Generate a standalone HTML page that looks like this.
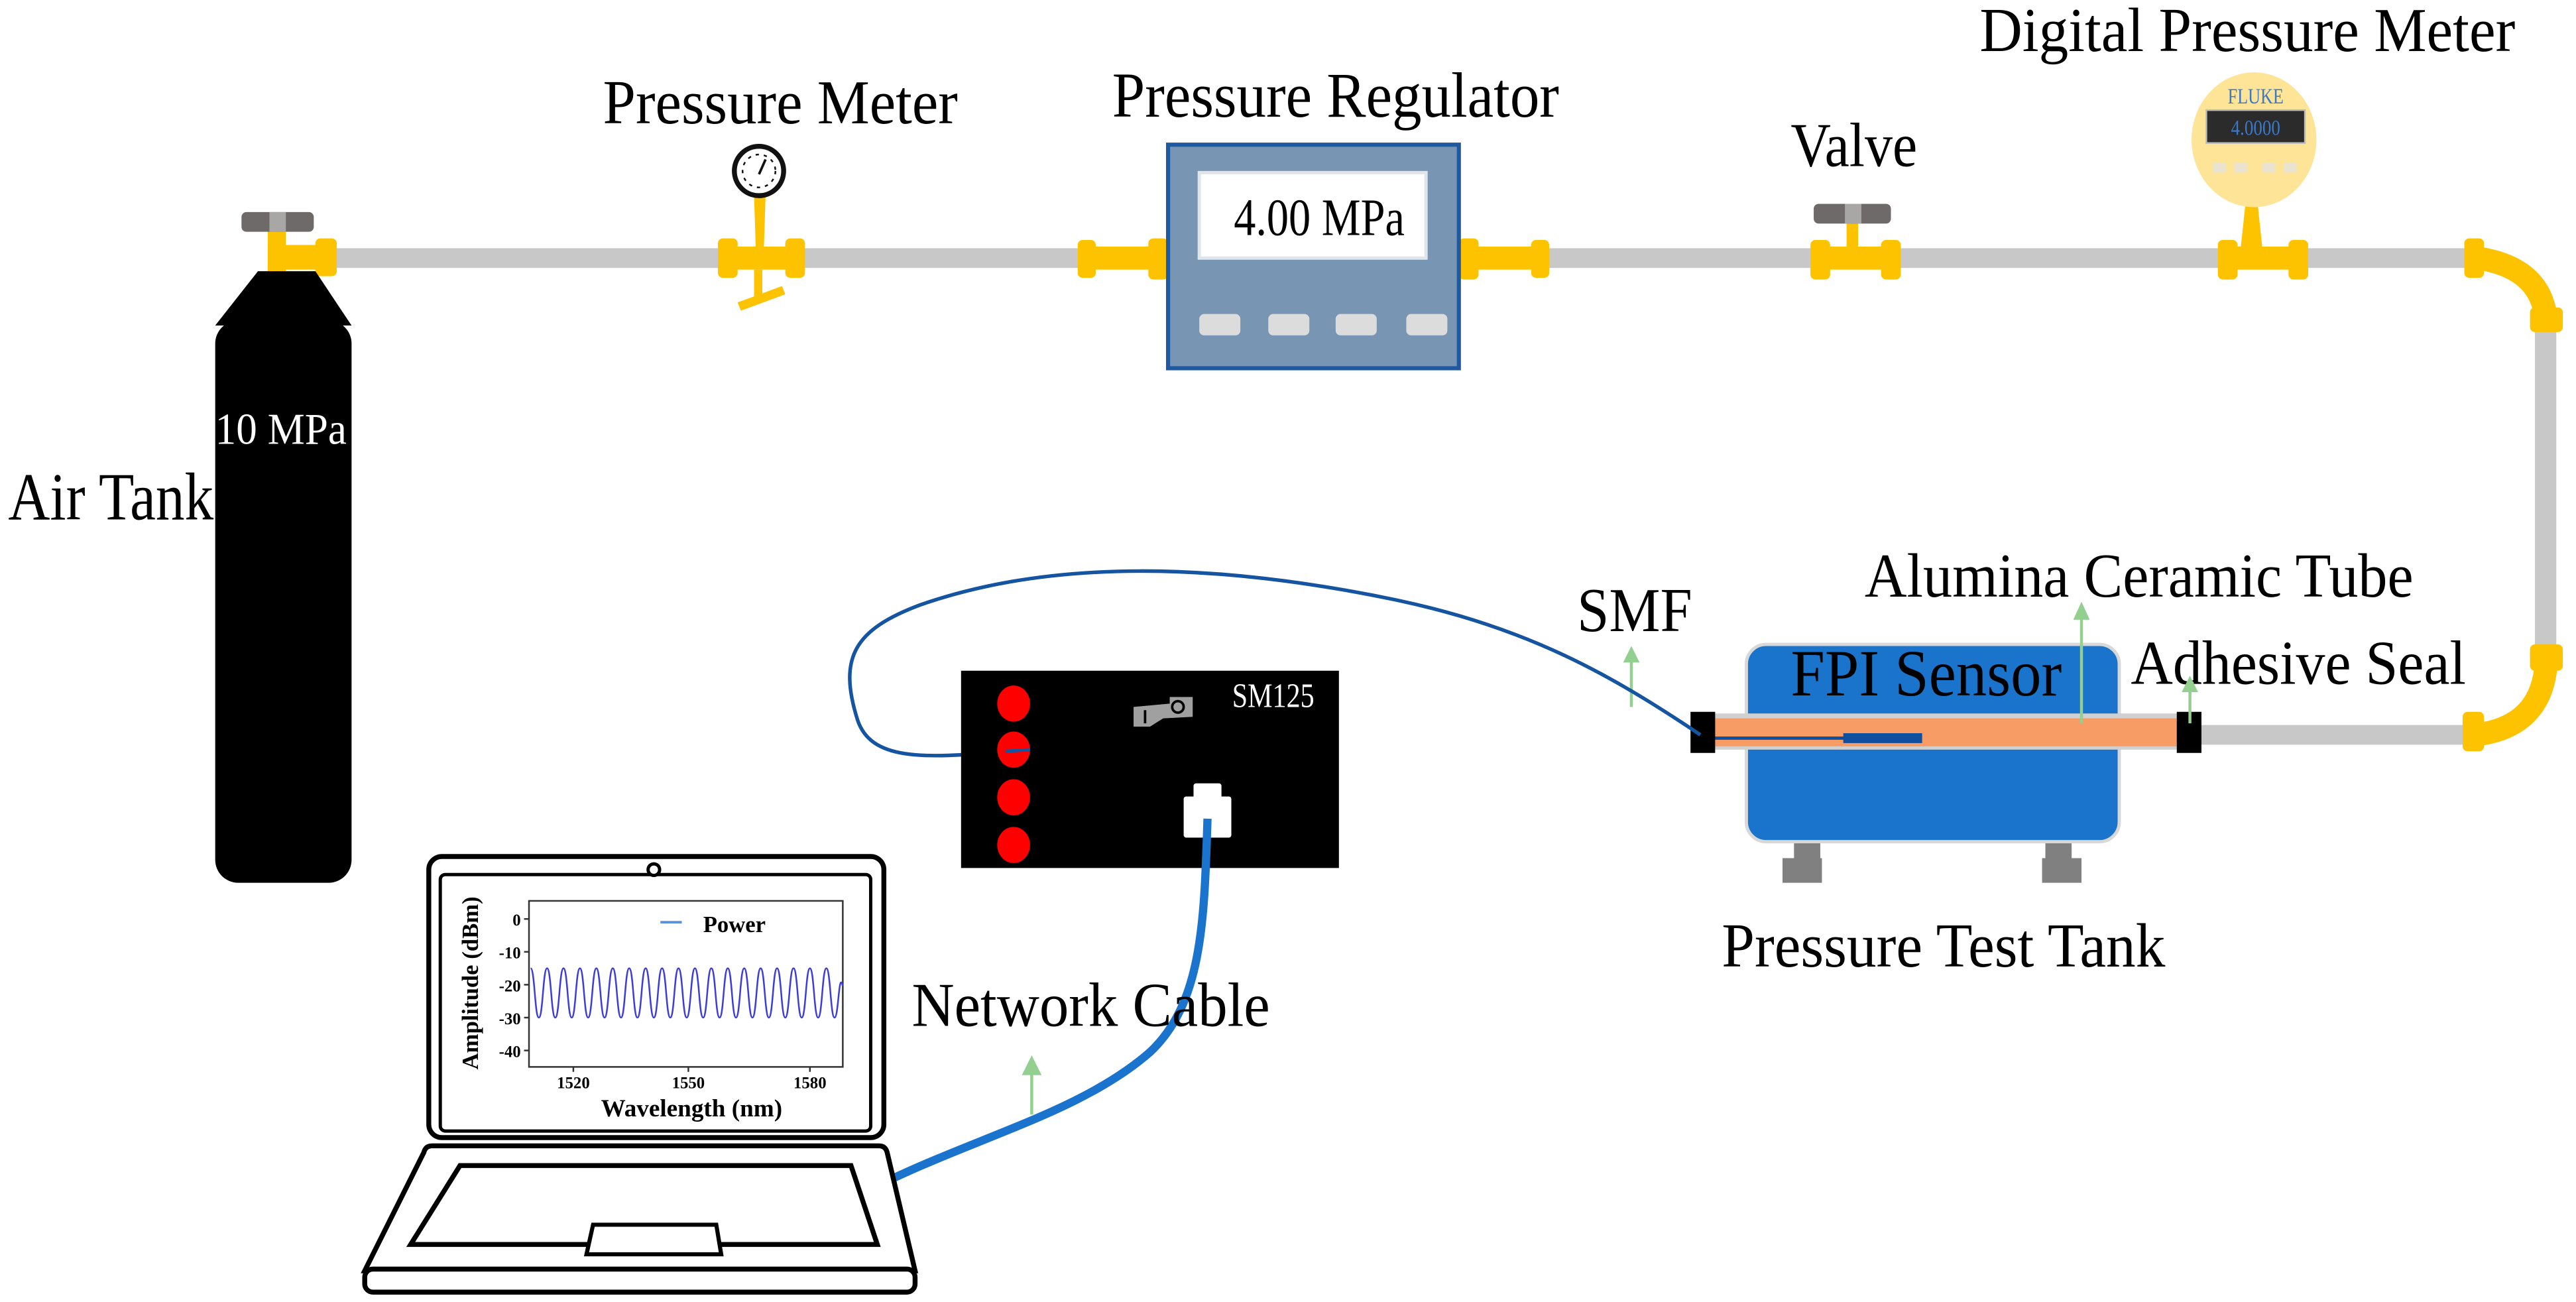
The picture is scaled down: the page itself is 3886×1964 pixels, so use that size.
<!DOCTYPE html>
<html><head><meta charset="utf-8"><style>
html,body{margin:0;padding:0;background:#fff;}
svg{display:block;}
text{font-family:"Liberation Serif","Times New Roman",serif;}
</style></head><body>
<svg width="3886" height="1964" viewBox="0 0 1568 792" preserveAspectRatio="none" xmlns="http://www.w3.org/2000/svg" font-family="Liberation Serif, serif">
<rect width="1568" height="792" fill="#fff"/>
<g fill="#c8c8c8">
<rect x="200" y="151" width="1310" height="12"/>
<rect x="1543" y="198" width="13" height="200"/>
<rect x="1335" y="441" width="172" height="12"/>
</g>
<g fill="#fdc300">
<rect x="163" y="139" width="11" height="28"/>
<rect x="163" y="149" width="38" height="15"/>
<rect x="192" y="145" width="13" height="23" rx="3"/>
<rect x="437" y="145" width="12" height="24" rx="3"/><rect x="445" y="150" width="36" height="14"/><rect x="478" y="145" width="12" height="24" rx="3"/>
<polygon points="459,119 466,119 465,150 460,150"/>
<rect x="459" y="164" width="5" height="18"/>
<polygon points="449,184 476,174 478,179 451,189"/>
<rect x="656" y="146" width="11" height="23" rx="3"/><rect x="662" y="150" width="40" height="14"/><rect x="699" y="145" width="12" height="25" rx="3"/>
<rect x="888" y="145" width="12" height="25" rx="3"/><rect x="896" y="150" width="40" height="14"/><rect x="932" y="146" width="11" height="23" rx="3"/>
<rect x="1102" y="146" width="12" height="24" rx="3"/><rect x="1110" y="150" width="40" height="14"/><rect x="1145" y="146" width="12" height="24" rx="3"/>
<rect x="1124" y="134" width="7" height="18"/>
<rect x="1350" y="146" width="12" height="24" rx="3"/><rect x="1358" y="150" width="40" height="14"/><rect x="1393" y="146" width="12" height="24" rx="3"/>
<polygon points="1367,122 1374,122 1377,150 1364,150"/>
<rect x="1500" y="145" width="12" height="24" rx="3"/>
<rect x="1540" y="187" width="20" height="15" rx="3"/>
<rect x="1540" y="392" width="20" height="16" rx="3"/>
<rect x="1499" y="433" width="13" height="24" rx="3"/>
</g>
<g fill="none" stroke="#fdc300" stroke-width="14">
<path d="M1508,157 Q1549,163 1550,198"/>
<path d="M1550,400 Q1549,442 1507,447"/>
</g>
<polygon points="157,165 192,165 214,198 131,198" fill="#000"/>
<rect x="131" y="195" width="83" height="342" rx="14" fill="#000"/>
<rect x="147" y="129" width="44" height="12" rx="3" fill="#6f6a6a"/>
<rect x="164" y="129" width="10" height="12" fill="#a9a6a6"/>
<text x="131" y="270" font-size="27" fill="#fff" textLength="80" lengthAdjust="spacingAndGlyphs">10 MPa</text>
<text x="5" y="316" font-size="41" fill="#000" textLength="125" lengthAdjust="spacingAndGlyphs">Air Tank</text>
<circle cx="462" cy="104" r="15" fill="#fff" stroke="#111" stroke-width="3"/>
<circle cx="462" cy="104" r="10" fill="none" stroke="#111" stroke-width="1" stroke-dasharray="2 3"/>
<line x1="462" y1="106" x2="466" y2="97" stroke="#111" stroke-width="1.5"/>
<text x="367" y="75" font-size="38" textLength="216" lengthAdjust="spacingAndGlyphs">Pressure Meter</text>
<rect x="711" y="88" width="177" height="136" fill="#7896b4" stroke="#1f5aa0" stroke-width="2.5"/>
<rect x="730" y="105" width="138" height="52" fill="#fff" stroke="#dfe5ea" stroke-width="2"/>
<text x="751" y="143" font-size="32" textLength="104" lengthAdjust="spacingAndGlyphs">4.00 MPa</text>
<g fill="#dcdcdc"><rect x="730" y="191" width="25" height="13" rx="3"/><rect x="772" y="191" width="25" height="13" rx="3"/><rect x="813" y="191" width="25" height="13" rx="3"/><rect x="856" y="191" width="25" height="13" rx="3"/></g>
<text x="677" y="71" font-size="39" textLength="272" lengthAdjust="spacingAndGlyphs">Pressure Regulator</text>
<rect x="1104" y="124" width="47" height="12" rx="3" fill="#6f6a6a"/>
<rect x="1123" y="124" width="10" height="12" fill="#a9a6a6"/>
<text x="1090" y="101" font-size="38" textLength="77" lengthAdjust="spacingAndGlyphs">Valve</text>
<ellipse cx="1372" cy="85" rx="38" ry="41" fill="#fde496"/>
<text x="1373" y="63" font-size="13" fill="#3a78c8" text-anchor="middle" textLength="34" lengthAdjust="spacingAndGlyphs">FLUKE</text>
<rect x="1343" y="67" width="60" height="20" fill="#2b2b2b" stroke="#bbb" stroke-width="1"/>
<text x="1373" y="82" font-size="13" fill="#3a78c8" text-anchor="middle" textLength="30" lengthAdjust="spacingAndGlyphs">4.0000</text>
<g fill="#e9e3cf"><rect x="1347" y="99" width="8" height="6"/><rect x="1360" y="99" width="8" height="6"/><rect x="1377" y="99" width="8" height="6"/><rect x="1390" y="99" width="8" height="6"/></g>
<text x="1205" y="31" font-size="38" textLength="326" lengthAdjust="spacingAndGlyphs">Digital Pressure Meter</text>
<rect x="1092" y="512" width="16" height="14" fill="#808080"/><rect x="1085" y="522" width="24" height="15" fill="#808080"/>
<rect x="1245" y="512" width="16" height="14" fill="#808080"/><rect x="1243" y="522" width="24" height="15" fill="#808080"/>
<rect x="1063" y="392" width="227" height="120" rx="12" fill="#1a74cc" stroke="#d8d8d8" stroke-width="2"/>
<rect x="1040" y="434" width="290" height="22" fill="#d0d0d0"/>
<rect x="1042" y="437" width="286" height="17" fill="#f89c66"/>
<line x1="1035" y1="449" x2="1125" y2="449" stroke="#0e4fa0" stroke-width="2"/>
<rect x="1122" y="446" width="48" height="6" fill="#0e4fa0"/>
<rect x="1029" y="433" width="15" height="25" fill="#000"/>
<rect x="1325" y="433" width="15" height="25" fill="#000"/>
<text x="1090" y="423" font-size="40" textLength="165" lengthAdjust="spacingAndGlyphs">FPI Sensor</text>
<text x="1135" y="363" font-size="38" textLength="334" lengthAdjust="spacingAndGlyphs">Alumina Ceramic Tube</text>
<text x="1297" y="416" font-size="38" textLength="204" lengthAdjust="spacingAndGlyphs">Adhesive Seal</text>
<text x="960" y="384" font-size="38" textLength="70" lengthAdjust="spacingAndGlyphs">SMF</text>
<text x="1048" y="588" font-size="38" textLength="270" lengthAdjust="spacingAndGlyphs">Pressure Test Tank</text>
<g stroke="#93d08f" stroke-width="1.8" fill="#93d08f">
<line x1="993" y1="430" x2="993" y2="402"/><polygon points="988,403 998,403 993,393" stroke="none"/>
<line x1="1267" y1="440" x2="1267" y2="376"/><polygon points="1262,377 1272,377 1267,366" stroke="none"/>
<line x1="1333" y1="440" x2="1333" y2="420"/><polygon points="1328,421 1338,421 1333,411" stroke="none"/>
<line x1="628" y1="678" x2="628" y2="652"/><polygon points="622,654 634,654 628,642" stroke="none"/>
</g>
<path d="M612,457 C560,462 530,462 522,438 C510,400 520,383 560,368 C640,340 740,342 850,365 C930,382 980,410 1035,447" fill="none" stroke="#1554a0" stroke-width="2.2"/>
<rect x="585" y="408" width="230" height="120" fill="#000"/>
<g fill="#fe0000"><ellipse cx="617" cy="428" rx="10" ry="11"/><ellipse cx="617" cy="456" rx="10" ry="11"/><ellipse cx="617" cy="485" rx="10" ry="11"/><ellipse cx="617" cy="514" rx="10" ry="11"/></g>
<path d="M612,457 L627,456" stroke="#1554a0" stroke-width="2"/>
<path d="M690,430 L712,428 L712,424 L726,424 L726,436 L708,437 L700,442 L690,442 Z" fill="#a0a0a0"/>
<circle cx="717" cy="430" r="3.5" fill="none" stroke="#000" stroke-width="1.5"/>
<line x1="697" y1="432" x2="697" y2="440" stroke="#000" stroke-width="1.5"/>
<text x="750" y="430" font-size="21" fill="#fff" textLength="50" lengthAdjust="spacingAndGlyphs">SM125</text>
<path d="M728,478 h14 v8 h6 v22 h-26 v-22 h6 z" fill="#fff" stroke="#fff" stroke-linejoin="round" stroke-width="3"/>
<path d="M735,498 C733,560 732,610 700,640 C660,675 600,690 541,718" fill="none" stroke="#1a73cc" stroke-width="5"/>
<text x="555" y="624" font-size="38" textLength="218" lengthAdjust="spacingAndGlyphs">Network Cable</text>
<rect x="261" y="521" width="277" height="171" rx="8" fill="#fff" stroke="#000" stroke-width="3"/>
<rect x="268" y="532" width="262" height="156" rx="3" fill="#fff" stroke="#000" stroke-width="2"/>
<circle cx="398" cy="529" r="3.5" fill="#fff" stroke="#000" stroke-width="2"/>
<path d="M263,697 H535 Q539,697 540,701 L557,773 H222 L258,701 Q259,697 263,697 Z" fill="#fff" stroke="#000" stroke-width="3"/>
<polygon points="280,709 518,709 534,757 250,757" fill="#fff" stroke="#000" stroke-width="3"/>
<polygon points="361,745 436,745 439,763 357,763" fill="#fff" stroke="#000" stroke-width="2.5"/>
<rect x="222" y="772" width="335" height="14" rx="5" fill="#fff" stroke="#000" stroke-width="3"/>
<rect x="322" y="548" width="191" height="101" fill="none" stroke="#333" stroke-width="1"/>
<g stroke="#333" stroke-width="1">
<line x1="319" y1="559" x2="322" y2="559"/><line x1="319" y1="579" x2="322" y2="579"/><line x1="319" y1="599" x2="322" y2="599"/><line x1="319" y1="619" x2="322" y2="619"/><line x1="319" y1="639" x2="322" y2="639"/>
<line x1="349" y1="649" x2="349" y2="652"/><line x1="419" y1="649" x2="419" y2="652"/><line x1="493" y1="649" x2="493" y2="652"/>
</g>
<g font-size="10" font-weight="bold" text-anchor="end">
<text x="317" y="563">0</text><text x="317" y="583">-10</text><text x="317" y="603">-20</text><text x="317" y="623">-30</text><text x="317" y="643">-40</text>
</g>
<g font-size="10" font-weight="bold" text-anchor="middle">
<text x="349" y="662">1520</text><text x="419" y="662">1550</text><text x="493" y="662">1580</text>
</g>
<text x="421" y="679" font-size="15" font-weight="bold" text-anchor="middle">Wavelength (nm)</text>
<text transform="translate(291,598) rotate(-90)" font-size="14" font-weight="bold" text-anchor="middle">Amplitude (dBm)</text>
<line x1="402" y1="561" x2="415" y2="561" stroke="#5b8fe0" stroke-width="1.5"/>
<text x="428" y="567" font-size="14" font-weight="bold">Power</text>
<path fill="none" stroke="#3c3cdc" stroke-width="1" d="M323,589 C325.5,589 325.5,619 328,619 C330.5,619 330.5,589 333,589 C335.5,589 335.5,619 338,619 C340.5,619 340.5,589 343,589 C345.5,589 345.5,619 348,619 C350.5,619 350.5,589 353,589 C355.5,589 355.5,619 358,619 C360.5,619 360.5,589 363,589 C365.5,589 365.5,619 368,619 C370.5,619 370.5,589 373,589 C375.5,589 375.5,619 378,619 C380.5,619 380.5,589 383,589 C385.5,589 385.5,619 388,619 C390.5,619 390.5,589 393,589 C395.5,589 395.5,619 398,619 C400.5,619 400.5,589 403,589 C405.5,589 405.5,619 408,619 C410.5,619 410.5,589 413,589 C415.5,589 415.5,619 418,619 C420.5,619 420.5,589 423,589 C425.5,589 425.5,619 428,619 C430.5,619 430.5,589 433,589 C435.5,589 435.5,619 438,619 C440.5,619 440.5,589 443,589 C445.5,589 445.5,619 448,619 C450.5,619 450.5,589 453,589 C455.5,589 455.5,619 458,619 C460.5,619 460.5,589 463,589 C465.5,589 465.5,619 468,619 C470.5,619 470.5,589 473,589 C475.5,589 475.5,619 478,619 C480.5,619 480.5,589 483,589 C485.5,589 485.5,619 488,619 C490.5,619 490.5,589 493,589 C495.5,589 495.5,619 498,619 C500.5,619 500.5,589 503,589 C505.5,589 505.5,619 508,619 C510.5,619 510.5,589 513,600"/>
</svg>
</body></html>
